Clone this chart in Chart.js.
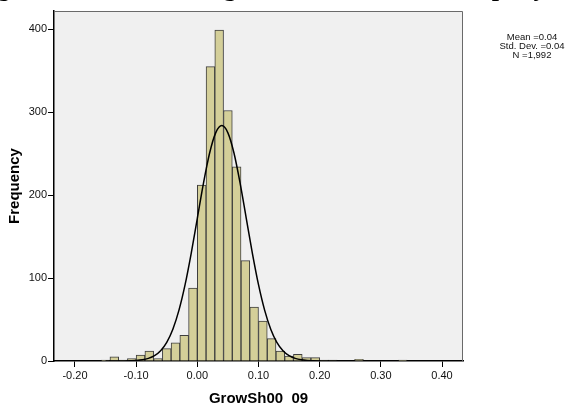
<!DOCTYPE html>
<html>
<head>
<meta charset="utf-8">
<script src="https://cdn.jsdelivr.net/npm/chart.js@4.4.1/dist/chart.umd.min.js"></script>
<style>
  body { margin: 0; background: #fff; }
  canvas { display: block; }
</style>
</head>
<body>
<canvas id="hist" width="574" height="406"></canvas>
<script>
// histogram bins (lower edge of each bin) and frequencies
var binWidth = 0.0142857;
var binStart = [-0.15714, -0.14286, -0.12857, -0.11429, -0.10000, -0.08571, -0.07143, -0.05714,
  -0.04286, -0.02857, -0.01429, 0.00000, 0.01429, 0.02857, 0.04286, 0.05714, 0.07143, 0.08571,
  0.10000, 0.11429, 0.12857, 0.14286, 0.15714, 0.17143, 0.18571, 0.20000, 0.21429, 0.22857,
  0.24286, 0.25714, 0.27143, 0.28571, 0.30000, 0.31429, 0.32857];
var frequency = [1, 5, 1, 3, 7, 12, 3, 15, 22, 31, 88, 212, 355, 399, 302, 234, 121, 65,
  48, 27, 12, 6, 8, 4, 4, 1, 1, 0, 0, 2, 0, 0, 0, 0, 1];

// normal curve
var curveX = [-0.15, -0.14, -0.13, -0.12, -0.11, -0.10, -0.09, -0.08, -0.07, -0.06, -0.05, -0.04,
  -0.03, -0.02, -0.01, 0.00, 0.01, 0.02, 0.03, 0.04, 0.05, 0.06, 0.07, 0.08, 0.09, 0.10, 0.11,
  0.12, 0.13, 0.14, 0.15, 0.16, 0.17, 0.18, 0.19, 0.20, 0.21, 0.22, 0.23];
var curveY = [0, 0, 0, 0.1, 0.3, 0.6, 1.4, 3.2, 6.5, 12.5, 22.6, 38.4,
  61.4, 92.1, 129.9, 172.1, 214.2, 250.5, 275.1, 283.8, 275.1, 250.5, 214.2, 172.1, 129.9, 92.1, 61.4,
  38.4, 22.6, 12.5, 6.5, 3.2, 1.4, 0.6, 0.3, 0.1, 0, 0, 0];

var statLines = ['Mean =0.04', 'Std. Dev. =0.04', 'N =1,992'];
var titleText = 'Figure 4.12: The Histogram of Growth of Company';
var xTitle = 'GrowSh00  09';
var yTitle = 'Frequency';

var barData = binStart.map(function (s, i) { return { x: s + binWidth / 2, y: frequency[i] }; });
var lineData = curveX.map(function (x, i) { return { x: x, y: curveY[i] }; });

var framePlugin = {
  id: 'frame',
  beforeDraw: function (chart) {
    var ctx = chart.ctx, a = chart.chartArea;
    ctx.save();
    ctx.fillStyle = '#ffffff';
    ctx.fillRect(0, 0, chart.width, chart.height);
    ctx.fillStyle = '#f0f0f0';
    ctx.fillRect(a.left, a.top, a.right - a.left, a.bottom - a.top);
    ctx.restore();
  },
  afterDraw: function (chart) {
    var ctx = chart.ctx, a = chart.chartArea;
    ctx.save();
    ctx.strokeStyle = '#6a6a6a';
    ctx.lineWidth = 1;
    ctx.beginPath();
    ctx.moveTo(a.left, a.top + 0.5);
    ctx.lineTo(a.right - 0.5, a.top + 0.5);
    ctx.lineTo(a.right - 0.5, a.bottom);
    ctx.stroke();

    // stats box text
    ctx.fillStyle = '#111';
    ctx.font = '9.5px "Liberation Sans", Arial, sans-serif';
    ctx.textAlign = 'center';
    ctx.textBaseline = 'middle';
    statLines.forEach(function (t, i) {
      ctx.fillText(t, 532, 37 + i * 9);
    });

    // title, cut off by the top edge like in the original
    ctx.font = 'bold 26px "Liberation Serif", "Times New Roman", serif';
    ctx.textAlign = 'left';
    ctx.textBaseline = 'alphabetic';
    var pre = ctx.measureText('Figure 4.12: The Histo').width;
    var g = ctx.measureText('g').width;
    ctx.fillStyle = '#000';
    ctx.fillText(titleText, 230 - pre - g / 2, -4);
    ctx.restore();
  }
};

new Chart(document.getElementById('hist'), {
  data: {
    datasets: [
      {
        type: 'line',
        data: lineData,
        borderColor: '#000',
        borderWidth: 1.5,
        pointRadius: 0,
        fill: false,
        cubicInterpolationMode: 'monotone',
        order: 0
      },
      {
        type: 'bar',
        data: barData,
        backgroundColor: '#d4cf99',
        borderColor: '#3e3e3e',
        borderWidth: 1,
        borderSkipped: 'bottom',
        barPercentage: 1,
        categoryPercentage: 1,
        order: 1
      }
    ]
  },
  options: {
    responsive: false,
    animation: false,
    layout: { padding: { top: 11, right: 111, left: 0, bottom: 0 } },
    plugins: { legend: { display: false }, tooltip: { enabled: false } },
    scales: {
      x: {
        type: 'linear',
        offset: false,
        min: -0.2343,
        max: 0.4343,
        afterFit: function (s) { s.height = 45; },
        ticks: {
          stepSize: 0.1,
          includeBounds: false,
          color: '#111',
          padding: 2,
          maxRotation: 0,
          font: { family: '"Liberation Sans", Arial, sans-serif', size: 11 },
          callback: function (v) { return Math.abs(v) < 1e-9 ? '0.00' : Number(v).toFixed(2); }
        },
        grid: { offset: false, drawOnChartArea: false, drawTicks: true, tickLength: 6, tickColor: '#000', tickWidth: 1 },
        border: { display: true, color: '#000', width: 1.5 },
        title: {
          display: true,
          text: xTitle,
          color: '#000',
          padding: { top: 0, bottom: 0 },
          font: { family: '"Liberation Sans", Arial, sans-serif', size: 15, weight: 'bold', lineHeight: 1 }
        }
      },
      y: {
        type: 'linear',
        min: 0,
        max: 422,
        afterFit: function (s) { s.width = 54; },
        ticks: {
          stepSize: 100,
          includeBounds: false,
          color: '#111',
          padding: 1,
          font: { family: '"Liberation Sans", Arial, sans-serif', size: 11 }
        },
        grid: { drawOnChartArea: false, drawTicks: true, tickLength: 6, tickColor: '#000', tickWidth: 1 },
        border: { display: true, color: '#000', width: 1.5 },
        title: {
          display: true,
          text: yTitle,
          color: '#000',
          padding: { top: 6, bottom: 0 },
          font: { family: '"Liberation Sans", Arial, sans-serif', size: 15, weight: 'bold', lineHeight: 1.2 }
        }
      }
    }
  },
  plugins: [framePlugin]
});
</script>
</body>
</html>
